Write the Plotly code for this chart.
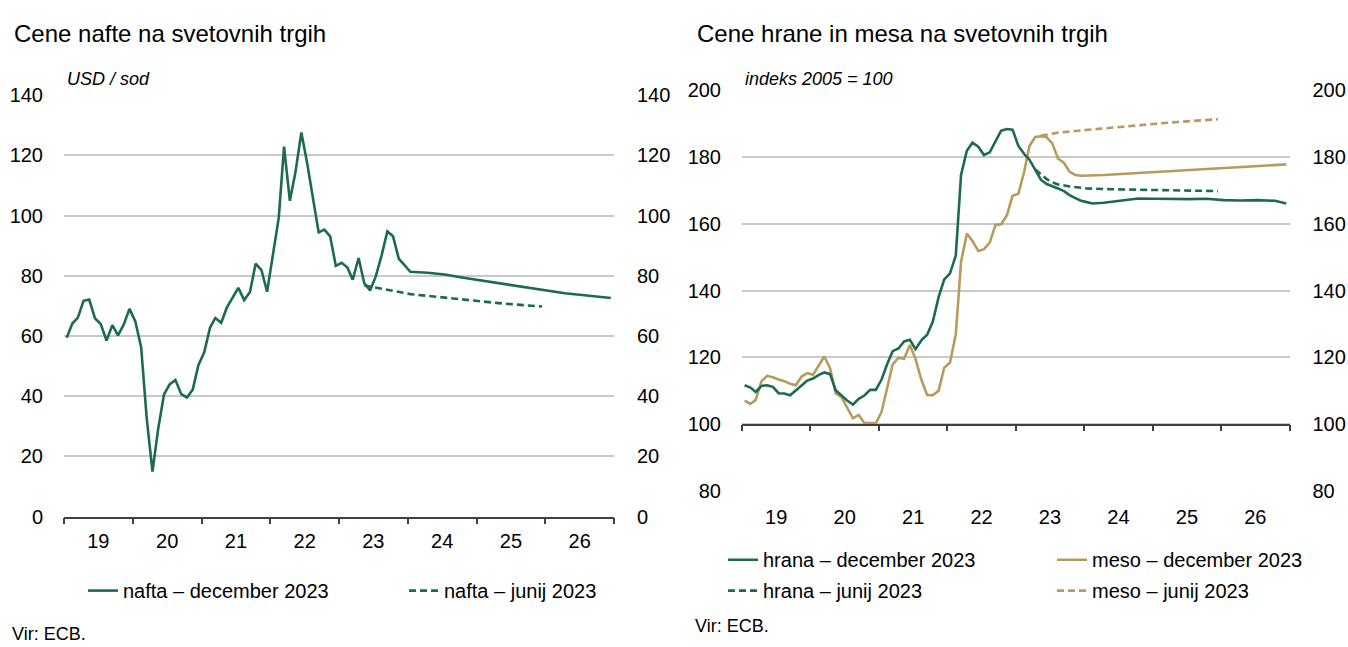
import plotly.graph_objects as go

W, H = 1348, 647

# ---------------- data ----------------
# month index: 0 = Jan 2019
hist_m = list(range(60))

oil_dec_hist = [59.4, 64.2, 66.0, 71.7, 72.1, 65.8, 64.0, 58.5, 63.6, 60.2, 63.9, 69.0,
                64.8, 56.2, 33.0, 15.0, 29.0, 40.5, 43.9, 45.4, 40.7, 39.6, 42.2, 50.3,
                54.6, 62.8, 66.0, 64.4, 69.4, 72.8, 76.0, 71.9, 74.6, 84.0, 81.9, 74.7,
                86.7, 99.3, 122.9, 104.9, 114.5, 127.6, 117.7, 106.0, 94.4, 95.3, 93.1, 83.3,
                84.3, 82.7, 78.7, 85.9, 77.6, 75.1, 79.7, 86.7, 94.7, 93.1, 85.6, 83.5]
oil_dec_proj_m = [60, 63, 66, 69, 72, 75, 78, 81, 84, 87, 90, 93, 95]
oil_dec_proj = [81.3, 81.0, 80.4, 79.4, 78.5, 77.7, 76.8, 75.8, 75.1, 74.2, 73.6, 73.0, 72.6]
oil_jun_m = [52, 54, 57, 60, 63, 66, 69, 72, 75, 78, 81, 83]
oil_jun = [76.8, 76.0, 75.0, 73.9, 73.3, 72.6, 72.0, 71.5, 71.0, 70.5, 70.0, 69.8]

food_dec_hist = [111.7, 111.0, 109.7, 111.5, 111.7, 111.2, 109.3, 109.2, 108.7, 110.0, 111.6, 113.1,
                 113.7, 114.8, 115.5, 115.0, 110.2, 108.6, 107.1, 105.9, 107.6, 108.6, 110.3, 110.3,
                 113.4, 118.2, 121.9, 122.7, 124.8, 125.3, 122.5, 125.1, 126.8, 130.7, 138.0, 143.3,
                 145.2, 150.5, 174.6, 181.9, 184.3, 183.1, 180.6, 181.4, 184.8, 187.9, 188.4, 188.2,
                 183.3, 180.9, 179.2, 176.3, 173.2, 171.9, 171.3, 170.6, 169.8, 168.6, 167.7, 166.9]
food_dec_proj_m = [60, 61, 63, 66, 69, 72, 75, 78, 81, 84, 87, 90, 93, 95]
food_dec_proj = [166.5, 166.1, 166.3, 166.9, 167.6, 167.5, 167.4, 167.4, 167.5, 167.1, 167.0, 167.1, 166.9, 166.1]
food_jun_m = [51, 52, 53, 54, 55, 57, 60, 63, 66, 69, 72, 75, 78, 81, 83]
food_jun = [176.3, 175.0, 173.4, 172.4, 171.8, 171.2, 170.6, 170.4, 170.3, 170.2, 170.1, 170.0, 169.9, 169.8, 169.8]

meat_dec_hist = [107.1, 106.1, 107.3, 112.9, 114.5, 114.1, 113.4, 112.9, 112.1, 111.7, 114.3, 115.3,
                 114.8, 117.7, 120.3, 116.8, 109.2, 108.1, 105.2, 101.8, 102.8, 100.4, 100.4, 100.3,
                 103.7, 111.0, 117.9, 119.9, 119.6, 123.7, 119.6, 113.4, 108.8, 108.7, 110.0, 116.9,
                 118.5, 126.9, 148.6, 157.1, 154.9, 151.9, 152.4, 154.4, 159.7, 159.9, 162.6, 168.4,
                 169.0, 175.6, 183.3, 186.0, 186.2, 185.9, 184.1, 179.5, 178.3, 175.6, 174.6, 174.4]
meat_dec_proj_m = [60, 63, 66, 69, 72, 75, 78, 81, 84, 87, 90, 93, 95]
meat_dec_proj = [174.4, 174.6, 174.9, 175.2, 175.5, 175.8, 176.1, 176.4, 176.7, 177.0, 177.3, 177.6, 177.8]
meat_jun_m = [52, 55, 58, 61, 64, 67, 70, 73, 76, 79, 83]
meat_jun = [186.4, 187.3, 187.8, 188.3, 188.7, 189.2, 189.6, 190.1, 190.5, 190.9, 191.3]

oil_ticks = [0, 20, 40, 60, 80, 100, 120, 140]
food_ticks = [80, 100, 120, 140, 160, 180, 200]

# ---------------- style ----------------
GREEN = "#1d6b4f"
GOLD = "#b89a5c"
GRID = "#c9c9c9"
AXIS = "#404040"
FONT = "Liberation Sans, Arial, sans-serif"
DASH = "7px,4px"


def mdate(i):
    return f"{2019 + i // 12}-{i % 12 + 1:02d}-15"


def dates(ms):
    return [mdate(i) for i in ms]


def px(x):
    return x / W


def py(y):
    return 1 - y / H


fig = go.Figure()

fig.add_trace(go.Scatter(x=dates(hist_m + oil_dec_proj_m), y=oil_dec_hist + oil_dec_proj,
                         mode="lines", line=dict(color=GREEN, width=2.6), showlegend=True,
                         name="nafta – december 2023", xaxis="x", yaxis="y", legend="legend"))
fig.add_trace(go.Scatter(x=dates(oil_jun_m), y=oil_jun, mode="lines",
                         line=dict(color=GREEN, width=2.6, dash=DASH), showlegend=True,
                         name="nafta – junij 2023", xaxis="x", yaxis="y", legend="legend2"))

fig.add_trace(go.Scatter(x=dates(food_jun_m), y=food_jun, mode="lines",
                         line=dict(color=GREEN, width=2.6, dash=DASH), showlegend=True,
                         name="hrana – junij 2023", xaxis="x2", yaxis="y2", legend="legend4"))
fig.add_trace(go.Scatter(x=dates(meat_jun_m), y=meat_jun, mode="lines",
                         line=dict(color=GOLD, width=2.6, dash=DASH), showlegend=True,
                         name="meso – junij 2023", xaxis="x2", yaxis="y2", legend="legend6"))
fig.add_trace(go.Scatter(x=dates(hist_m + meat_dec_proj_m), y=meat_dec_hist + meat_dec_proj,
                         mode="lines", line=dict(color=GOLD, width=2.6), showlegend=True,
                         name="meso – december 2023", xaxis="x2", yaxis="y2", legend="legend5"))
fig.add_trace(go.Scatter(x=dates(hist_m + food_dec_proj_m), y=food_dec_hist + food_dec_proj,
                         mode="lines", line=dict(color=GREEN, width=2.6), showlegend=True,
                         name="hrana – december 2023", xaxis="x2", yaxis="y2", legend="legend3"))

# helper (empty) traces so the mirrored axes exist
for xa, ya in [("x", "y3"), ("x2", "y4"), ("x3", "y2")]:
    fig.add_trace(go.Scatter(x=[], y=[], xaxis=xa, yaxis=ya, showlegend=False, hoverinfo="skip"))

XR = ["2019-01-01", "2027-01-01"]
xcommon = dict(type="date", range=XR, tick0="2019-01-01", dtick="M12", tickformat="%y",
               showgrid=False, zeroline=False, fixedrange=True)
tickfont = dict(family=FONT, size=20, color="#000000")

L_X0, L_X1, L_Y0, L_Y1 = 64, 614, 523.5, 87
R_X0, R_X1, R_Y0, R_Y1 = 742, 1289.5, 497, 82
R_AX = 428.2

fig.update_layout(
    width=W, height=H, margin=dict(l=0, r=0, t=0, b=0), showlegend=True,
    paper_bgcolor="white", plot_bgcolor="white",
    xaxis=dict(**xcommon, domain=[px(L_X0), px(L_X1)], anchor="y", ticklabelmode="period",
               showline=True, linecolor=AXIS, linewidth=1.5, ticks="outside", ticklen=6,
               tickwidth=1.5, tickcolor=AXIS, tickfont=tickfont, ticklabelstandoff=0),
    yaxis=dict(domain=[py(L_Y0), py(L_Y1)], range=[0, 140], tickvals=oil_ticks, anchor="x",
               showgrid=True, gridcolor=GRID, gridwidth=1.5, zeroline=False, showline=False,
               ticks="", tickfont=tickfont, ticklabelstandoff=20, fixedrange=True),
    yaxis3=dict(overlaying="y", side="right", anchor="x", range=[0, 140], tickvals=oil_ticks,
                showgrid=False, zeroline=False, showline=False, ticks="", tickfont=tickfont,
                ticklabelstandoff=22, fixedrange=True),
    xaxis2=dict(**xcommon, domain=[px(R_X0), px(R_X1)], anchor="y2", ticklabelmode="period",
                showline=False, ticks="", tickfont=tickfont, ticklabelstandoff=12),
    xaxis3=dict(**xcommon, overlaying="x2", anchor="free", position=py(R_AX),
                showline=True, linecolor=AXIS, linewidth=1.5, ticks="outside", ticklen=6,
                tickwidth=1.5, tickcolor=AXIS, showticklabels=False),
    yaxis2=dict(domain=[py(R_Y0), py(R_Y1)], range=[80, 200], tickvals=food_ticks, anchor="x2",
                showgrid=True, gridcolor=GRID, gridwidth=1.5, zeroline=False, showline=False,
                ticks="", tickfont=tickfont, ticklabelstandoff=20, fixedrange=True),
    yaxis4=dict(overlaying="y2", side="right", anchor="x2", range=[80, 200], tickvals=food_ticks,
                showgrid=False, zeroline=False, showline=False, ticks="", tickfont=tickfont,
                ticklabelstandoff=22, fixedrange=True),
    hovermode=False,
)

legfont = dict(family=FONT, size=20, color="#000000")
leg_pos = {
    "legend": (83, 600),
    "legend2": (404, 600),
    "legend3": (723, 568),
    "legend4": (723, 600),
    "legend5": (1052, 568),
    "legend6": (1052, 600),
}
for name, (lx, ly) in leg_pos.items():
    fig.update_layout({name: dict(x=px(lx), y=py(ly), xanchor="left", yanchor="middle",
                                  orientation="v", font=legfont, bgcolor="rgba(0,0,0,0)",
                                  borderwidth=0, itemclick=False, itemdoubleclick=False,
                                  visible=True)})

anns = [
    ("Cene nafte na svetovnih trgih", 12, 23, dict(family=FONT, size=24, color="#000000")),
    ("Cene hrane in mesa na svetovnih trgih", 695, 23, dict(family=FONT, size=24, color="#000000")),
    ("<i>USD / sod</i>", 65, 70, dict(family=FONT, size=18, color="#000000")),
    ("<i>indeks 2005 = 100</i>", 743, 70, dict(family=FONT, size=18, color="#000000")),
    ("Vir: ECB.", 10, 645, dict(family=FONT, size=18, color="#000000")),
    ("Vir: ECB.", 693, 637, dict(family=FONT, size=18, color="#000000")),
]
for text, ax_, ay_, f in anns:
    fig.add_annotation(text=text, x=px(ax_), y=py(ay_), xref="paper", yref="paper",
                       xanchor="left", yanchor="middle", showarrow=False, font=f)

fig.write_html("out.html", config={"displayModeBar": False},
               post_script="document.body.style.margin='0';document.body.style.overflow='hidden';")
